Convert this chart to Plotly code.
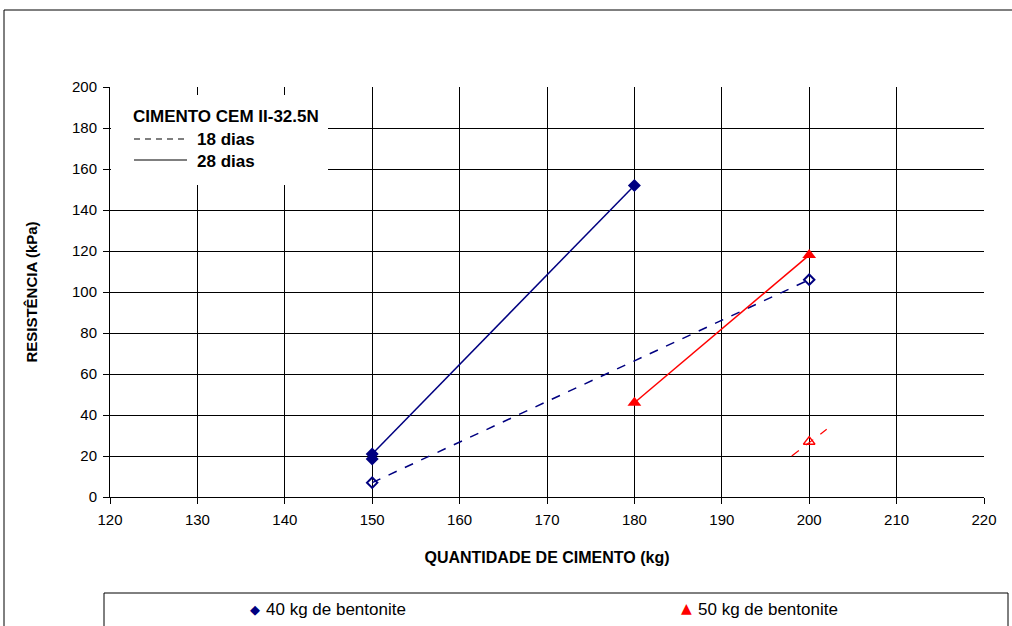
import plotly.graph_objects as go

# data
x40_28 = [150, 180]
y40_28 = [21, 152]
x40_28_extra = [150]
y40_28_extra = [18.5]
x40_18 = [150, 200]
y40_18 = [7, 106]
x50_28 = [180, 200]
y50_28 = [46, 118]
x50_18 = [200]
y50_18 = [27]
x50_18_trend = [198, 202]
y50_18_trend = [20, 33]
legend_names = ["40 kg de bentonite", "50 kg de bentonite"]

NAVY = "#000080"
RED = "#FF0000"

fig = go.Figure()
fig.add_trace(go.Scatter(x=x40_28, y=y40_28, mode="lines+markers",
                         line=dict(color=NAVY, width=1.5),
                         marker=dict(symbol="diamond", size=10, color=NAVY),
                         showlegend=False))
fig.add_trace(go.Scatter(x=x40_28_extra, y=y40_28_extra, mode="markers",
                         marker=dict(symbol="diamond", size=10, color=NAVY),
                         showlegend=False))
fig.add_trace(go.Scatter(x=x40_18, y=y40_18, mode="lines+markers",
                         line=dict(color=NAVY, width=1.5, dash="dash"),
                         marker=dict(symbol="diamond-open", size=8, color=NAVY, line=dict(width=2)),
                         showlegend=False))
fig.add_trace(go.Scatter(x=x50_28, y=y50_28, mode="lines+markers",
                         line=dict(color=RED, width=1.5),
                         marker=dict(symbol="triangle-up", size=12, color=RED),
                         showlegend=False))
fig.add_trace(go.Scatter(x=x50_18_trend, y=y50_18_trend, mode="lines",
                         line=dict(color=RED, width=1.2, dash="dash"),
                         showlegend=False))
fig.add_trace(go.Scatter(x=x50_18, y=y50_18, mode="markers",
                         marker=dict(symbol="triangle-up-open", size=10, color=RED, line=dict(width=1.5)),
                         showlegend=False))

W, H = 1012, 626
L, R, T, B = 110, 28, 87, 129
pw, ph = W - L - R, H - T - B

def px(xp):
    return (xp - L) / pw

def py(yp):
    return (H - B - yp) / ph

shapes = []
# outer chart border
shapes.append(dict(type="rect", xref="paper", yref="paper", x0=px(4), x1=px(1030), y0=py(650), y1=py(10),
                   line=dict(color="black", width=1), fillcolor="rgba(0,0,0,0)", layer="below"))
# bottom legend box
shapes.append(dict(type="rect", xref="paper", yref="paper", x0=px(104), x1=px(1008), y0=py(640), y1=py(593),
                   line=dict(color="black", width=1), fillcolor="white"))
# inner legend box
shapes.append(dict(type="rect", xref="paper", yref="paper", x0=px(111), x1=px(328), y0=py(185), y1=py(95),
                   line=dict(color="white", width=0), fillcolor="white", layer="above"))
shapes.append(dict(type="line", xref="paper", yref="paper", x0=px(134), x1=px(187), y0=py(139), y1=py(139),
                   line=dict(color="black", width=1.2, dash="6px,5px")))
shapes.append(dict(type="line", xref="paper", yref="paper", x0=px(134), x1=px(187), y0=py(160), y1=py(160),
                   line=dict(color="black", width=1.2)))
fig.update_layout(shapes=shapes)

ann = []
ann.append(dict(text="<b>CIMENTO CEM II-32.5N</b>", xref="paper", yref="paper", x=px(131), y=py(117),
                xanchor="left", yanchor="middle", showarrow=False, font=dict(size=17, color="black")))
ann.append(dict(text="<b>18 dias</b>", xref="paper", yref="paper", x=px(195), y=py(139),
                xanchor="left", yanchor="middle", showarrow=False, font=dict(size=17, color="black")))
ann.append(dict(text="<b>28 dias</b>", xref="paper", yref="paper", x=px(195), y=py(161),
                xanchor="left", yanchor="middle", showarrow=False, font=dict(size=17, color="black")))
# bottom legend
ann.append(dict(text="◆", xref="paper", yref="paper", x=px(255), y=py(609),
                xanchor="center", yanchor="middle", showarrow=False,
                font=dict(size=13, color=NAVY, family="DejaVu Sans")))
ann.append(dict(text=legend_names[0], xref="paper", yref="paper", x=px(264), y=py(609),
                xanchor="left", yanchor="middle", showarrow=False, font=dict(size=17, color="black")))
ann.append(dict(text="▲", xref="paper", yref="paper", x=px(686), y=py(608),
                xanchor="center", yanchor="middle", showarrow=False,
                font=dict(size=14, color=RED, family="DejaVu Sans")))
ann.append(dict(text=legend_names[1], xref="paper", yref="paper", x=px(696), y=py(609),
                xanchor="left", yanchor="middle", showarrow=False, font=dict(size=17, color="black")))
fig.update_layout(annotations=ann)

fig.update_layout(
    width=W, height=H,
    margin=dict(l=L, r=R, t=T, b=B, pad=0),
    paper_bgcolor="white", plot_bgcolor="white",
    showlegend=False,
    font=dict(family="Liberation Sans, Arial, sans-serif", size=15, color="black"),
    xaxis=dict(range=[120, 220], dtick=10, tick0=120, showgrid=True, gridcolor="black", gridwidth=1,
               showline=True, linecolor="black", linewidth=1, ticks="outside", ticklen=6, tickcolor="black",
               zeroline=False, fixedrange=True, automargin=False, ticklabelstandoff=3,
               tickfont=dict(size=15),
               title=dict(text="<b>QUANTIDADE DE CIMENTO (kg)</b>", font=dict(size=16), standoff=24)),
    yaxis=dict(range=[0, 200], dtick=20, showgrid=True, gridcolor="black", gridwidth=1,
               showline=True, linecolor="black", linewidth=1, ticks="outside", ticklen=6, tickcolor="black",
               zeroline=False, fixedrange=True, automargin=False, ticklabelstandoff=3,
               tickfont=dict(size=15),
               title=dict(text="<b>RESISTÊNCIA (kPa)</b>", font=dict(size=15), standoff=30)),
)

fig.write_html("out.html")
